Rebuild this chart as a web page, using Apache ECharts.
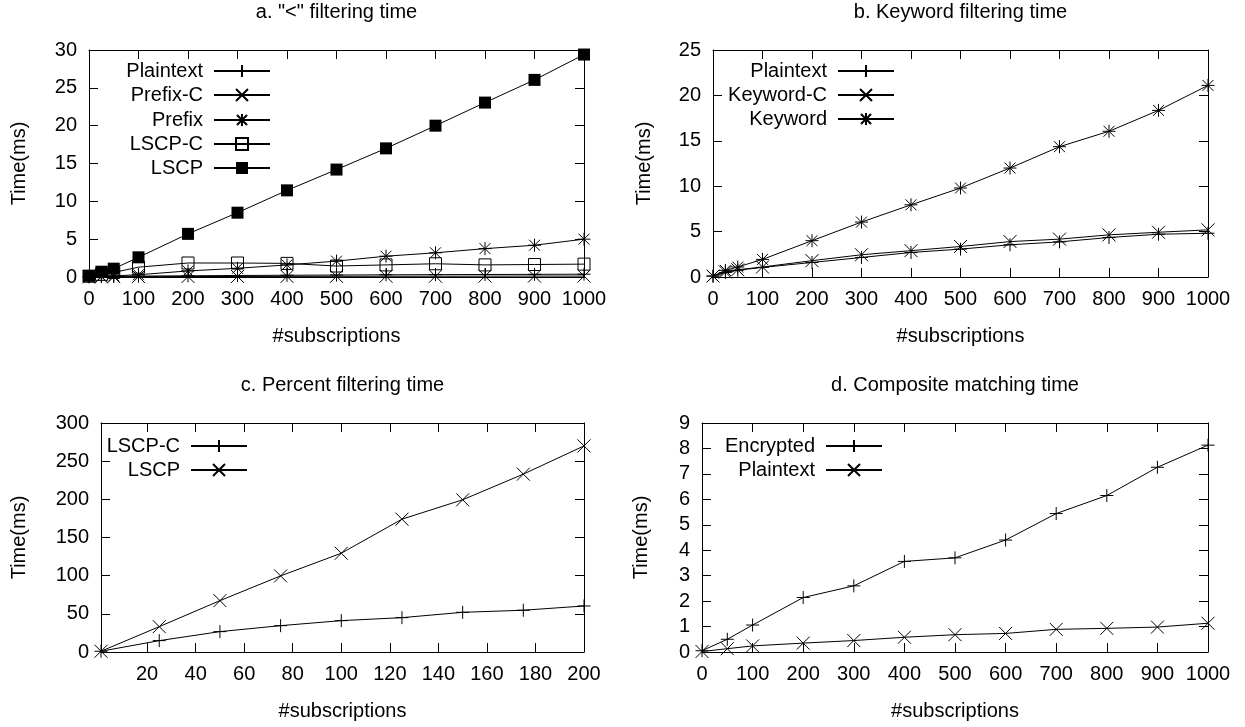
<!DOCTYPE html>
<html><head><meta charset="utf-8">
<script src="https://cdn.jsdelivr.net/npm/echarts@6/dist/echarts.min.js"></script>
<style>html,body{margin:0;padding:0;background:#fff}#c{width:1245px;height:727px}</style>
</head><body><div id="c"></div>
<script>
// ---------- data ----------
// a. "<" filtering time
const xA = [0, 25, 50, 100, 200, 300, 400, 500, 600, 700, 800, 900, 1000];
const aPlaintext = [0.02, 0.05, 0.08, 0.12, 0.16, 0.2, 0.23, 0.26, 0.29, 0.31, 0.33, 0.35, 0.37];
const aPrefixC   = [0.02, 0.03, 0.04, 0.05, 0.06, 0.07, 0.08, 0.09, 0.1, 0.1, 0.11, 0.12, 0.12];
const aPrefix    = [0.05, 0.1, 0.15, 0.3, 0.8, 1.15, 1.6, 2.1, 2.75, 3.2, 3.75, 4.2, 5.0];
const aLSCPC     = [0.1, 0.35, 0.6, 1.3, 1.85, 1.85, 1.8, 1.45, 1.6, 1.75, 1.6, 1.65, 1.7];
const aLSCP      = [0.15, 0.7, 1.1, 2.6, 5.7, 8.5, 11.45, 14.2, 17.0, 20.0, 23.05, 26.05, 29.4];
// b. Keyword filtering time
const xB = [0, 25, 50, 100, 200, 300, 400, 500, 600, 700, 800, 900, 1000];
const bPlaintext = [0.1, 0.5, 0.75, 1.06, 1.6, 2.15, 2.7, 3.07, 3.55, 3.87, 4.35, 4.71, 4.82];
const bKeywordC  = [0.1, 0.55, 0.8, 1.1, 1.8, 2.45, 2.9, 3.36, 3.9, 4.17, 4.64, 4.93, 5.19];
const bKeyword   = [0.1, 0.73, 1.1, 1.94, 4.0, 6.05, 7.95, 9.8, 12.0, 14.35, 16.05, 18.35, 21.1];
// c. Percent filtering time
const xC = [1, 25, 50, 75, 100, 125, 150, 175, 200];
const cLSCPC = [1, 14.9, 26.7, 34.5, 41.1, 45, 52, 54.7, 60.3];
const cLSCP  = [1, 33.2, 67.3, 99.7, 129.4, 174, 199.4, 233, 270];
const xTicksC = [20, 40, 60, 80, 100, 120, 140, 160, 180, 200];
// d. Composite matching time
const xD = [0, 50, 100, 200, 300, 400, 500, 600, 700, 800, 900, 1000];
const dEncrypted = [0.05, 0.5, 1.06, 2.14, 2.6, 3.56, 3.7, 4.4, 5.44, 6.15, 7.26, 8.13];
const dPlaintext = [0.02, 0.13, 0.24, 0.35, 0.45, 0.58, 0.68, 0.73, 0.89, 0.93, 0.98, 1.13];

const titles = ['a. "<" filtering time', 'b. Keyword filtering time', 'c. Percent filtering time', 'd. Composite matching time'];

// ---------- style ----------
const FONT = '"Liberation Sans", Arial, sans-serif';
const FS = 20;
const SYM = {
  plus: 'path://M5,0L5,10M0,5L10,5',
  cross: 'path://M0,0L10,10M10,0L0,10',
  star: 'path://M5,0L5,10M0,5L10,5M0.8,0.8L9.2,9.2M9.2,0.8L0.8,9.2',
  box: 'path://M0,0L10,0L10,10L0,10Z',
  fbox: 'rect'
};

const grids = [
  {left: 89, top: 50, width: 495, height: 227},
  {left: 713, top: 50, width: 495, height: 227},
  {left: 101, top: 423, width: 483, height: 229},
  {left: 702, top: 423, width: 506, height: 229}
];
const xCfg = [
  {min: 0, max: 1000, interval: 100},
  {min: 0, max: 1000, interval: 100},
  {min: 1, max: 200, custom: xTicksC},
  {min: 0, max: 1000, interval: 100}
];
const yCfg = [
  {min: 0, max: 30, interval: 5},
  {min: 0, max: 25, interval: 5},
  {min: 0, max: 300, interval: 50},
  {min: 0, max: 9, interval: 1}
];
const yNameGap = [60, 59, 72, 51];

const txt = {fontFamily: FONT, fontSize: FS, color: '#000'};
const plain = (v) => String(v);
const xAxes = [], yAxes = [];
grids.forEach((g, i) => {
  const xc = xCfg[i], yc = yCfg[i];
  const base = (cfg) => {
    const o = {type: 'value', gridIndex: i, min: cfg.min, max: cfg.max,
      axisLine: {show: true, onZero: false, lineStyle: {color: '#000', width: 1}},
      axisTick: {show: true, inside: true, length: 9, lineStyle: {color: '#000', width: 1}},
      splitLine: {show: false}};
    if (cfg.interval) o.interval = cfg.interval;
    if (cfg.custom) { o.axisTick.customValues = cfg.custom; }
    return o;
  };
  const xb = base(xc);
  xb.position = 'bottom';
  xb.axisLabel = Object.assign({show: true, margin: 12, showMinLabel: true, showMaxLabel: true, formatter: plain}, txt);
  if (xc.custom) xb.axisLabel.customValues = xc.custom;
  xb.name = '#subscriptions'; xb.nameLocation = 'middle'; xb.nameGap = 49;
  xb.nameTextStyle = Object.assign({}, txt);
  const xt = base(xc);
  xt.position = 'top';
  xt.axisLabel = {show: false};
  xt.name = titles[i]; xt.nameLocation = 'middle'; xt.nameGap = 28;
  xt.nameTextStyle = Object.assign({}, txt);
  xAxes.push(xb, xt);

  const yl = base(yc);
  yl.position = 'left';
  yl.axisLabel = Object.assign({show: true, margin: 12, showMinLabel: true, showMaxLabel: true, formatter: plain}, txt);
  yl.name = 'Time(ms)'; yl.nameLocation = 'middle'; yl.nameGap = yNameGap[i]; yl.nameRotate = 90;
  yl.nameTextStyle = Object.assign({}, txt);
  const yr = base(yc);
  yr.position = 'right';
  yr.axisLabel = {show: false};
  yAxes.push(yl, yr);
});

function line(name, xs, ys, sym, gi, size) {
  const filled = sym === 'rect';
  return {
    type: 'line', name: name, xAxisIndex: gi * 2, yAxisIndex: gi * 2,
    data: xs.map((x, k) => [x, ys[k]]),
    symbol: sym, symbolSize: size || 13, showAllSymbol: true,
    lineStyle: {color: '#000', width: 1},
    itemStyle: {color: filled ? '#000' : 'transparent', borderColor: '#000', borderWidth: filled ? 0 : 1},
    emphasis: {disabled: true}, silent: true
  };
}

const series = [
  line('Plaintext', xA, aPlaintext, SYM.plus, 0),
  line('Prefix-C', xA, aPrefixC, SYM.cross, 0),
  line('Prefix', xA, aPrefix, SYM.star, 0),
  line('LSCP-C', xA, aLSCPC, SYM.box, 0, 12),
  line('LSCP', xA, aLSCP, SYM.fbox, 0, 12),
  line('Plaintext ', xB, bPlaintext, SYM.plus, 1),
  line('Keyword-C', xB, bKeywordC, SYM.cross, 1),
  line('Keyword', xB, bKeyword, SYM.star, 1),
  line('LSCP-C ', xC, cLSCPC, SYM.plus, 2),
  line('LSCP ', xC, cLSCP, SYM.cross, 2),
  line('Encrypted', xD, dEncrypted, SYM.plus, 3),
  line('Plaintext  ', xD, dPlaintext, SYM.cross, 3)
];

// legends: one per entry so that the samples line up on the right
const W = 1245;
function leg(name, sampleRight, rowCenter) {
  return {
    data: [name], orient: 'vertical', align: 'right', right: W - sampleRight, top: rowCenter - 10,
    padding: 0, itemWidth: 56, itemHeight: 15, selectedMode: false,
    formatter: (n) => n.trim(),
    textStyle: {fontFamily: FONT, fontSize: FS, color: '#000', lineHeight: 20, padding: [0, 6, 0, 0]}
  };
}
const legends = [
  leg('Plaintext', 271, 71), leg('Prefix-C', 271, 95), leg('Prefix', 271, 120), leg('LSCP-C', 271, 144), leg('LSCP', 271, 168),
  leg('Plaintext ', 895, 71), leg('Keyword-C', 895, 95), leg('Keyword', 895, 119),
  leg('LSCP-C ', 248, 446), leg('LSCP ', 248, 470),
  leg('Encrypted', 883, 446), leg('Plaintext  ', 883, 470)
];

const chart = echarts.init(document.getElementById('c'), null, {renderer: 'canvas'});
chart.setOption({
  animation: false,
  backgroundColor: '#fff',
  grid: grids.map(g => Object.assign({outerBoundsMode: 'none', containLabel: false}, g)),
  xAxis: xAxes,
  yAxis: yAxes,
  legend: legends,
  series: series
});
</script>
</body></html>
